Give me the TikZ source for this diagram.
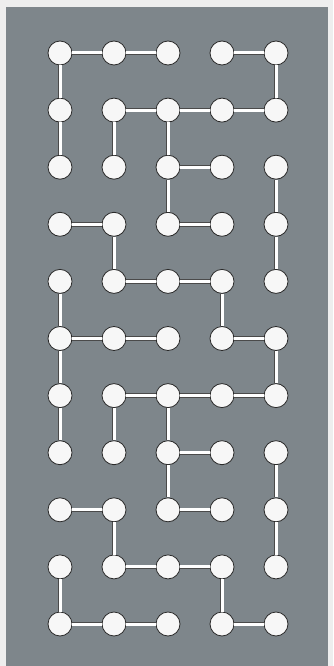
\documentclass[tikz,border=0pt]{standalone}
\usepackage{tikz}
\usepackage{xcolor}
\usetikzlibrary{positioning}
\definecolor{frame}{HTML}{EEEEEE}
\definecolor{slate}{HTML}{7E868B}
\definecolor{ink}{HTML}{2A2A2A}
\definecolor{chalk}{HTML}{F7F7F7}
\tikzset{
  mazedot/.style={
    draw=ink, fill=chalk, line width=0.8pt, circle,
    inner sep=0pt, minimum size=24pt
  },
  mazelink/.style={
    draw=ink!85, line width=0.7pt, double=white, double distance=3pt
  }
}
\begin{document}
\begin{tikzpicture}[x=1pt,y=-1pt]
  \fill[frame] (0,0) rectangle (333,666);
  \fill[slate] (6,7) rectangle (328,666);
  % grid of dots
  \foreach \c in {1,...,5}
    \foreach \r in {1,...,11}
      \node[mazedot] (n\c-\r) at ({60+54*(\c-1)},{53+57.1*(\r-1)}) {};
  % horizontal links
  \foreach \a/\b in {1-1/2-1,2-1/3-1,4-1/5-1,
      2-2/3-2,3-2/4-2,4-2/5-2,3-3/4-3,1-4/2-4,3-4/4-4,
      2-5/3-5,3-5/4-5,1-6/2-6,2-6/3-6,4-6/5-6,
      2-7/3-7,3-7/4-7,4-7/5-7,3-8/4-8,1-9/2-9,3-9/4-9,
      2-10/3-10,3-10/4-10,1-11/2-11,2-11/3-11,4-11/5-11}
    \draw[mazelink] (n\a) -- (n\b);
  % vertical links
  \foreach \a/\b in {1-1/1-2,1-2/1-3,5-1/5-2,2-2/2-3,3-2/3-3,
      3-3/3-4,5-3/5-4,5-4/5-5,2-4/2-5,1-5/1-6,4-5/4-6,
      1-6/1-7,5-6/5-7,1-7/1-8,2-7/2-8,3-7/3-8,3-8/3-9,
      5-8/5-9,5-9/5-10,2-9/2-10,1-10/1-11,4-10/4-11}
    \draw[mazelink] (n\a) -- (n\b);
\end{tikzpicture}
\end{document}
